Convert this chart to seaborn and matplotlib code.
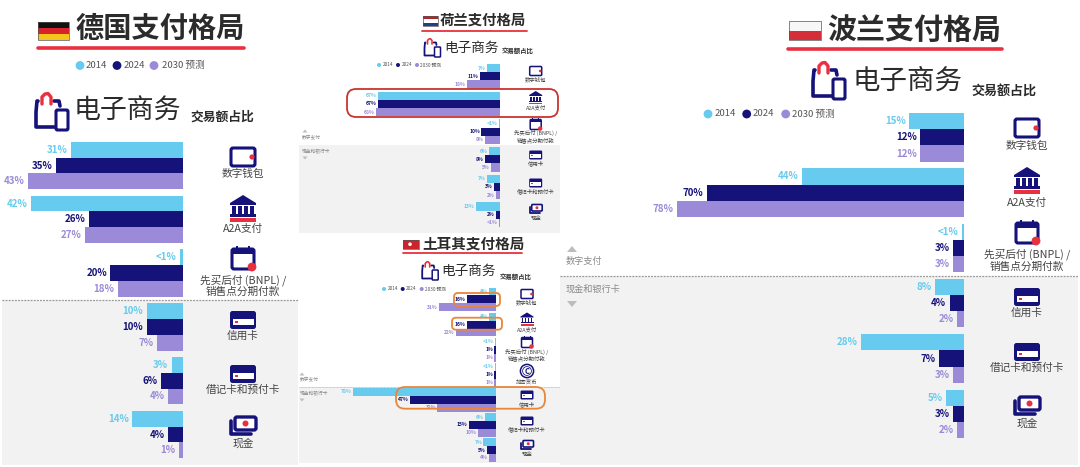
import matplotlib
matplotlib.use("Agg")
import matplotlib.pyplot as plt
import pandas as pd
import seaborn as sns
from matplotlib.patches import Circle, FancyBboxPatch, Polygon, Rectangle

sns.set_theme(style="white")
plt.rcParams["font.family"] = ["Noto Sans CJK SC", "DejaVu Sans"]

# ---------- data ----------
years = ["2014", "2024", "2030 预测"]
cats_six = ["数字钱包", "A2A支付", "先买后付 (BNPL) /\n销售点分期付款", "信用卡", "借记卡和预付卡", "现金"]
cats_seven = ["数字钱包", "A2A支付", "先买后付 (BNPL) /\n销售点分期付款", "加密货币", "信用卡", "借记卡和预付卡", "现金"]

de_2014 = [31, 42, 0.6, 10, 3, 14]
de_2024 = [35, 26, 20, 10, 6, 4]
de_2030 = [43, 27, 18, 7, 4, 1]
de_2014_txt = ["31%", "42%", "<1%", "10%", "3%", "14%"]
de_2024_txt = ["35%", "26%", "20%", "10%", "6%", "4%"]
de_2030_txt = ["43%", "27%", "18%", "7%", "4%", "1%"]

nl_2014 = [7, 67, 0.6, 6, 7, 13]
nl_2024 = [11, 67, 10, 8, 3, 2]
nl_2030 = [18, 68, 8, 5, 2, 0.6]
nl_2014_txt = ["7%", "67%", "<1%", "6%", "7%", "13%"]
nl_2024_txt = ["11%", "67%", "10%", "8%", "3%", "2%"]
nl_2030_txt = ["18%", "68%", "8%", "5%", "2%", "<1%"]

tr_2014 = [4, 4, 0.6, 0.6, 78, 6, 7]
tr_2024 = [16, 16, 1, 1, 47, 15, 5]
tr_2030 = [31, 22, 1, 1, 32, 10, 4]
tr_2014_txt = ["4%", "4%", "<1%", "<1%", "78%", "6%", "7%"]
tr_2024_txt = ["16%", "16%", "1%", "1%", "47%", "15%", "5%"]
tr_2030_txt = ["31%", "22%", "1%", "1%", "32%", "10%", "4%"]

pl_2014 = [15, 44, 0.6, 8, 28, 5]
pl_2024 = [12, 70, 3, 4, 7, 3]
pl_2030 = [12, 78, 3, 2, 3, 2]
pl_2014_txt = ["15%", "44%", "<1%", "8%", "28%", "5%"]
pl_2024_txt = ["12%", "70%", "3%", "4%", "7%", "3%"]
pl_2030_txt = ["12%", "78%", "3%", "2%", "3%", "2%"]

# ---------- styles ----------
CYAN, NAVY, LAV, RED = "#66CBEE", "#15127A", "#9B8AD8", "#E8303F"
ORANGE, GREY_BG, GREY_TX = "#E8873A", "#F2F2F2", "#8A8A8A"
DARK = "#2B2B2B"
palette = dict(zip(years, [CYAN, NAVY, LAV]))
label_colors = [CYAN, NAVY, LAV]

W, H = 1080, 467
fig = plt.figure(figsize=(W / 100, H / 100), dpi=100, facecolor="white")


def pixel_axes(z):
    ax = fig.add_axes([0, 0, 1, 1], zorder=z)
    ax.set_xlim(0, W)
    ax.set_ylim(H, 0)
    ax.axis("off")
    ax.patch.set_alpha(0)
    return ax


bg = pixel_axes(0)
top = pixel_axes(3)


def chart(cats, series, texts, base, ppp, left, y0, y1, width, fs, pad):
    """series drawn through seaborn; base = baseline pixel, ppp = pixels per percent"""
    df = pd.DataFrame({
        "cat": cats * 3,
        "year": sum([[y] * len(cats) for y in years], []),
        "val": sum(series, []),
    })
    ax = fig.add_axes([left / W, 1 - y1 / H, (base - left) / W, (y1 - y0) / H], zorder=1)
    sns.barplot(data=df, y="cat", x="val", hue="year", order=cats, hue_order=years,
                palette=palette, orient="h", width=width, gap=0, saturation=1,
                linewidth=0, legend=False, ax=ax)
    ax.set_xlim((base - left) / ppp, 0)
    ax.set_ylim(len(cats) - 0.5, -0.5)
    ax.axis("off")
    ax.patch.set_alpha(0)
    for cont, txt, col in zip(ax.containers, texts, label_colors):
        ax.bar_label(cont, labels=txt, padding=pad, color=col, fontsize=fs, fontweight="bold")
    return ax


# ---------- icons ----------
def rrect(ax, x0, y0, w, h, r, **kw):
    ax.add_patch(FancyBboxPatch((x0 + r, y0 + r), w - 2 * r, h - 2 * r,
                                boxstyle=f"round,pad={r},rounding_size={r}", **kw))


def wallet(cx, cy, s):
    rrect(bg, cx - 12 * s, cy - 9 * s, 24 * s, 18 * s, 2 * s, fc="white", ec=NAVY, lw=2.2 * s)
    bg.add_patch(Circle((cx + 9 * s, cy), 2.6 * s, fc=RED, ec="none", zorder=4))


def bank(cx, cy, s):
    bg.add_patch(Polygon([(cx - 13 * s, cy - 4 * s), (cx, cy - 12 * s), (cx + 13 * s, cy - 4 * s),
                          (cx + 13 * s, cy - 2 * s), (cx - 13 * s, cy - 2 * s)], fc=NAVY, ec="none"))
    for dx in (-9, -3, 3, 9):
        bg.add_patch(Rectangle((cx + (dx - 1.7) * s, cy - 1 * s), 3.4 * s, 8 * s, fc=NAVY, ec="none"))
    bg.add_patch(Rectangle((cx - 13 * s, cy + 7 * s), 26 * s, 2.6 * s, fc=NAVY, ec="none"))
    bg.add_patch(Rectangle((cx - 13 * s, cy + 11 * s), 26 * s, 3.6 * s, fc=RED, ec="none"))


def calendar(cx, cy, s):
    rrect(bg, cx - 11 * s, cy - 9 * s, 22 * s, 20 * s, 2 * s, fc="white", ec=NAVY, lw=2.2 * s)
    bg.add_patch(Rectangle((cx - 11 * s, cy - 8 * s), 22 * s, 3.6 * s, fc=NAVY, ec="none"))
    for dx in (-6, 6):
        bg.add_patch(Rectangle((cx + (dx - 1) * s, cy - 12 * s), 2 * s, 4 * s, fc=NAVY, ec="none"))
    bg.add_patch(Circle((cx + 9 * s, cy + 9 * s), 4.4 * s, fc=RED, ec="none", zorder=4))


def card(cx, cy, s):
    rrect(bg, cx - 13 * s, cy - 9 * s, 26 * s, 18 * s, 2.5 * s, fc=NAVY, ec="none")
    bg.add_patch(Rectangle((cx - 10.5 * s, cy - 1.5 * s), 21 * s, 6.5 * s, fc="white", ec="none"))
    bg.add_patch(Rectangle((cx - 8.5 * s, cy + 0.7 * s), 3.5 * s, 2 * s, fc=RED, ec="none"))


def cash(cx, cy, s):
    bg.plot([cx - 12 * s, cx - 12 * s, cx + 8 * s], [cy - 5 * s, cy + 8 * s, cy + 8 * s],
            color=NAVY, lw=2.6 * s, solid_capstyle="round")
    rrect(bg, cx - 8 * s, cy - 9 * s, 21 * s, 13 * s, 2 * s, fc="white", ec=NAVY, lw=2.4 * s)
    bg.add_patch(Circle((cx + 2.5 * s, cy - 2.5 * s), 3 * s, fc=RED, ec="none", zorder=4))


def coin(cx, cy, s):
    bg.add_patch(Circle((cx, cy), 12 * s, fc="white", ec=NAVY, lw=2.0 * s))
    bg.add_patch(Circle((cx, cy), 8 * s, fc="white", ec=NAVY, lw=1.0 * s))
    bg.text(cx, cy, "C", color=NAVY, fontsize=10 * s, fontweight="bold", ha="center", va="center")


def bag(x0, y0, s):
    bg.plot([x0 + 3 * s, x0 + 2 * s, x0 + 1 * s, x0 + 1 * s, x0 + 20 * s],
            [y0 + 9 * s, y0 + 9 * s, y0 + 20 * s, y0 + 35 * s, y0 + 35 * s],
            color=NAVY, lw=2.6 * s, solid_capstyle="round", solid_joinstyle="round")
    bg.plot([x0 + 19 * s, x0 + 24 * s, x0 + 25 * s], [y0 + 9 * s, y0 + 9 * s, y0 + 14 * s],
            color=NAVY, lw=2.6 * s, solid_capstyle="round")
    bg.plot([x0 + 7 * s, x0 + 7 * s, x0 + 10 * s, x0 + 13 * s, x0 + 16 * s, x0 + 16 * s],
            [y0 + 12 * s, y0 + 5 * s, y0 + 2 * s, y0 + 1.5 * s, y0 + 5 * s, y0 + 12 * s],
            color=RED, lw=2.4 * s, solid_capstyle="round", solid_joinstyle="round")
    rrect(bg, x0 + 21 * s, y0 + 18 * s, 12 * s, 20 * s, 1.5 * s, fc="white", ec=NAVY, lw=2.2 * s)


def flag(x0, y0, w, h, colors):
    n = len(colors)
    for i, c in enumerate(colors):
        bg.add_patch(Rectangle((x0, y0 + i * h / n), w, h / n, fc=c, ec="none"))
    bg.add_patch(Rectangle((x0, y0), w, h, fc="none", ec="#555555", lw=0.5))


def heading(text, tx, ty, fs, x0, x1, uy, lw):
    bg.text(tx, ty, text, fontsize=fs, fontweight="bold", color=DARK, ha="left", va="center")
    bg.plot([x0, x1], [uy, uy], color=RED, lw=lw, solid_capstyle="round")


def ecommerce(x, y, fs, sx, sy, sfs):
    bg.text(x, y, "电子商务", fontsize=fs, fontweight="light", color=DARK, ha="left", va="center")
    bg.text(sx, sy, "交易额占比", fontsize=sfs, fontweight="bold", color=DARK, ha="left", va="center")


def legend(xs, txs, y, r, fs):
    for x, tx, c, t in zip(xs, txs, label_colors, years):
        bg.add_patch(Circle((x, y), r, fc=c, ec="none"))
        bg.text(tx, y, t, fontsize=fs, color="#555555", ha="left", va="center")


def cat_labels(cx, ys, labels, fs):
    for y, t in zip(ys, labels):
        bg.text(cx, y, t, fontsize=fs, color="#444444", ha="center", va="center", linespacing=1.15)


def side(x, tri_x, tri_w, y_up, y_t1, y_t2, y_dn, fs):
    bg.add_patch(Polygon([(tri_x - tri_w, y_up + tri_w * .6), (tri_x + tri_w, y_up + tri_w * .6),
                          (tri_x, y_up - tri_w * .6)], fc="#BDBDBD", ec="none"))
    bg.add_patch(Polygon([(tri_x - tri_w, y_dn - tri_w * .6), (tri_x + tri_w, y_dn - tri_w * .6),
                          (tri_x, y_dn + tri_w * .6)], fc="#BDBDBD", ec="none"))
    bg.text(x, y_t1, "数字支付", fontsize=fs, color=GREY_TX, ha="left", va="center")
    bg.text(x, y_t2, "现金和银行卡", fontsize=fs, color=GREY_TX, ha="left", va="center")


# ---------- grey bands ----------
for x0, x1, y0, y1 in [(2, 298, 300, 465), (560, 1078, 276, 465), (299, 560, 145, 233), (299, 560, 387, 463)]:
    bg.add_patch(Rectangle((x0, y0), x1 - x0, y1 - y0, fc=GREY_BG, ec="none"))
for x0, x1, y, lw in [(2, 298, 300, 0.9), (560, 1078, 276, 0.9), (299, 560, 387, 0.4)]:
    bg.plot([x0, x1], [y, y], color="#9A9A9A", lw=lw, ls=(0, (1.5, 1)))

# ---------- Germany ----------
chart(cats_six, [de_2014, de_2024, de_2030], [de_2014_txt, de_2024_txt, de_2030_txt],
      182.5, 3.6, 2, 138.6, 461.4, 0.88, 7.0, 2.5)
flag(38, 22, 31, 18, ["#111111", "#D8232A", "#F6C51B"])
heading("德国支付格局", 75.5, 29, 20.3, 38, 244, 48, 2.6)
legend([80, 117, 154], [86, 123.5, 161.5], 65.5, 4.4, 6.9)
bag(35, 92, 1)
ecommerce(74, 111, 19.4, 190, 117, 9.2)
cat_labels(243, [174, 229, 285.5, 336, 390, 443], cats_six, 7.7)
wallet(243, 157, 1); bank(243, 207, 1); calendar(243, 258, 1)
card(243, 320, 1); card(243, 374, 1); cash(243, 426, 1)

# ---------- Netherlands ----------
chart(cats_six, [nl_2014, nl_2024, nl_2030], [nl_2014_txt, nl_2024_txt, nl_2030_txt],
      499.7, 1.82, 302, 62.5, 228.5, 0.88, 3.6, 1)
flag(422.7, 16, 15, 10, ["#B0262C", "#FFFFFF", "#1F3F8C"])
heading("荷兰支付格局", 440, 21, 10.4, 422, 526.5, 30.5, 1.3)
legend([379, 398, 417], [382.5, 401.5, 420.5], 65, 2, 3.4)
bag(424, 38, 0.5)
ecommerce(444.5, 48, 9.8, 502, 51, 4.6)
cat_labels(535.7, [80, 108, 136.5, 163.5, 191.5, 218.5], cats_six, 3.9)
wallet(535.7, 71, .5); bank(535.7, 97, .5); calendar(535.7, 124, .5)
card(535.7, 155, .5); card(535.7, 183, .5); cash(535.7, 209, .5)
side(302, 305, 2.5, 131, 137, 151, 158, 3.4)
top.add_patch(FancyBboxPatch((347, 89), 211, 28, boxstyle="round,pad=0,rounding_size=9",
                             fc="none", ec="#C8352F", lw=1.3))

# ---------- Turkey ----------
chart(cats_seven, [tr_2014, tr_2024, tr_2030], [tr_2014_txt, tr_2024_txt, tr_2030_txt],
      496.3, 1.84, 302, 286.9, 462.6, 0.95, 3.6, 1)
flag(403, 240, 16, 8.5, ["#C9252B"])
bg.add_patch(Circle((410, 244.2), 1.8, fc="white", ec="none"))
heading("土耳其支付格局", 422, 244, 10.5, 403, 522, 252.7, 1.3)
legend([384, 402.7, 421.7], [387.5, 406, 425], 289, 2, 3.4)
bag(421.7, 261, 0.5)
ecommerce(441.5, 271, 9.8, 500, 276, 4.6)
cat_labels(527, [303, 329.5, 355, 382, 404, 429.5, 454.5], cats_seven, 3.9)
wallet(527, 294, .5); bank(527, 318.5, .5); calendar(527, 342, .5); coin(527, 371, .55)
card(527, 395, .5); card(527, 421, .5); cash(527, 445, .5)
side(300, 302, 2.5, 374, 379.7, 393, 400, 3.4)
for x0, y0, w, h, r in [(454, 293, 46, 13, 4), (452, 317.7, 50, 12, 4), (396, 387, 149, 21.7, 9)]:
    top.add_patch(FancyBboxPatch((x0, y0), w, h, boxstyle=f"round,pad=0,rounding_size={r}",
                                 fc="none", ec=ORANGE, lw=1.3))

# ---------- Poland ----------
chart(cats_six, [pl_2014, pl_2024, pl_2030], [pl_2014_txt, pl_2024_txt, pl_2030_txt],
      964.3, 3.68, 600, 109.7, 441.5, 0.877, 7.0, 2.5)
flag(788.5, 21, 32, 19, ["#F7F7F7", "#D42E38"])
heading("波兰支付格局", 827, 30, 20.9, 788, 1002, 49, 2.6)
legend([708, 746.7, 785.7], [715, 753, 792], 114, 4.4, 6.9)
bag(812, 61, 1)
ecommerce(853, 81, 19.8, 971, 91, 9.4)
cat_labels(1027, [146, 203, 260, 313, 368, 423], cats_six, 7.7)
wallet(1027, 128, 1); bank(1027, 179, 1); calendar(1027, 232, 1)
card(1027, 297, 1); card(1027, 352, 1); cash(1027, 406, 1)
side(566, 572, 5, 249, 261, 289, 304, 6.6)

fig.savefig("out.png", dpi=100, facecolor="white")
